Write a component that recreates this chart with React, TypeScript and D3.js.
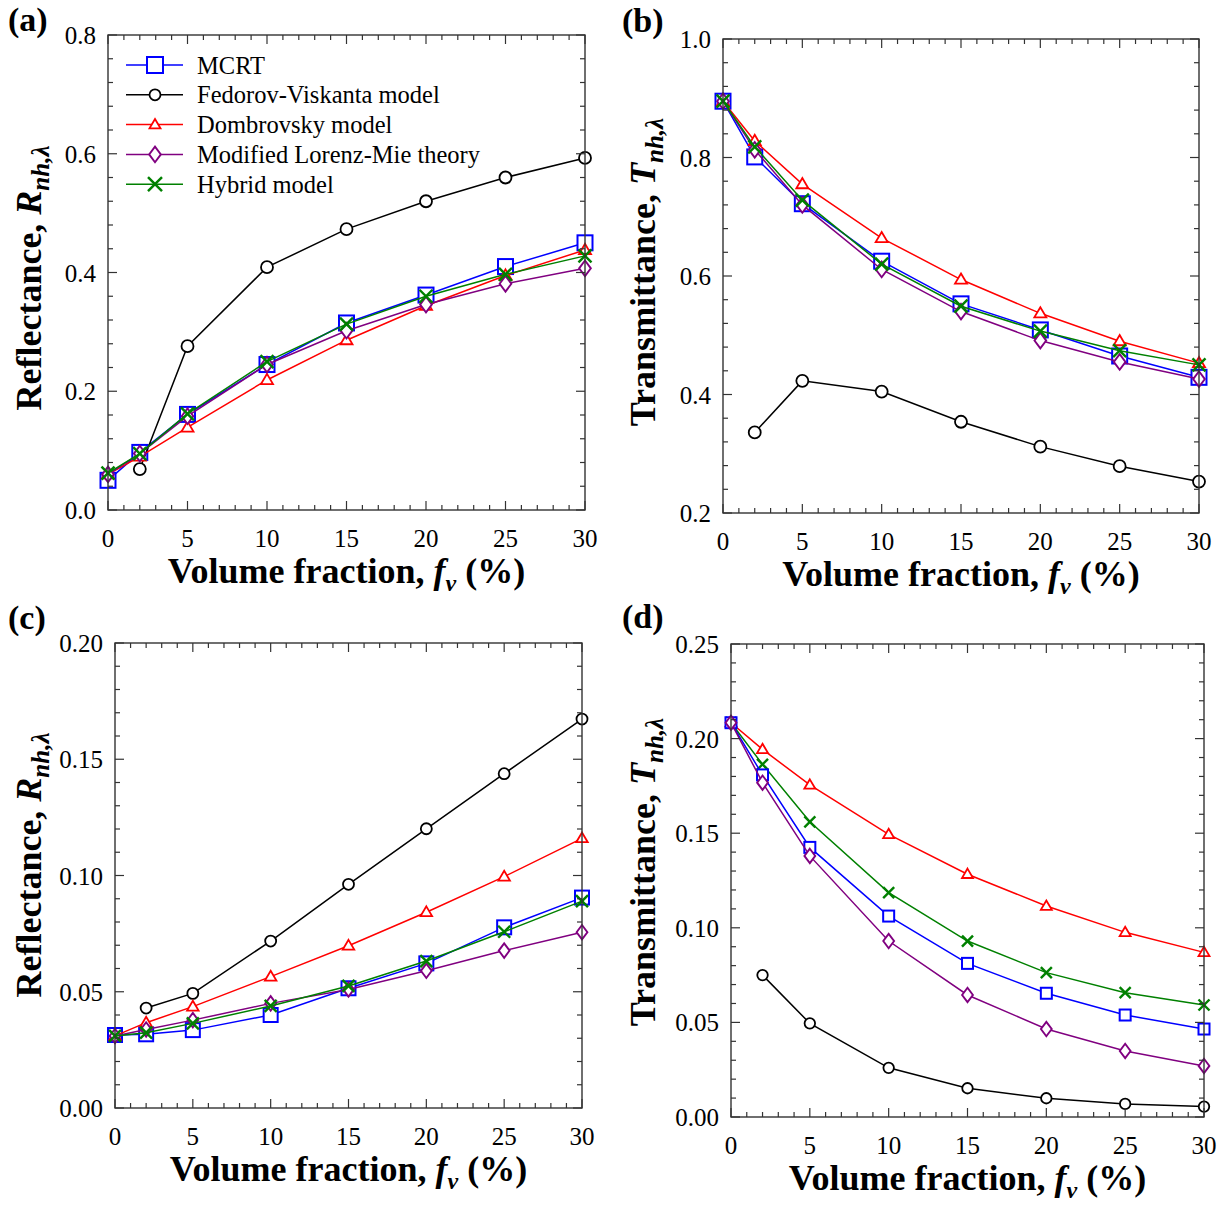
import React from 'react';
import * as d3 from 'd3';

// ---------- DATA ----------
const fv = [0, 2, 5, 10, 15, 20, 25, 30];
const seriesNames = ['MCRT', 'Fedorov-Viskanta model', 'Dombrovsky model', 'Modified Lorenz-Mie theory', 'Hybrid model'];
const seriesColors = ['#0000ff', '#000000', '#ff0000', '#800080', '#008000'];
const seriesMarkers = ['square', 'circle', 'triangle', 'diamond', 'cross'];

// (a) Reflectance
const mcrtA = [0.050, 0.097, 0.161, 0.245, 0.315, 0.362, 0.410, 0.450];
const fedorovA = [null, 0.069, 0.276, 0.409, 0.473, 0.520, 0.560, 0.593];
const dombrovskyA = [0.060, 0.090, 0.139, 0.219, 0.286, 0.344, 0.395, 0.438];
const mlmA = [0.060, 0.095, 0.158, 0.245, 0.302, 0.346, 0.381, 0.407];
const hybridA = [0.062, 0.095, 0.162, 0.250, 0.313, 0.360, 0.397, 0.428];

// (b) Transmittance
const mcrtB = [0.895, 0.801, 0.722, 0.625, 0.553, 0.509, 0.465, 0.429];
const fedorovB = [null, 0.336, 0.423, 0.405, 0.354, 0.312, 0.279, 0.253];
const dombrovskyB = [0.895, 0.828, 0.755, 0.664, 0.594, 0.537, 0.490, 0.453];
const mlmB = [0.895, 0.813, 0.720, 0.611, 0.540, 0.491, 0.455, 0.426];
const hybridB = [0.895, 0.818, 0.728, 0.620, 0.549, 0.507, 0.474, 0.450];

// (c) Reflectance
const mcrtC = [0.0314, 0.0317, 0.0335, 0.0400, 0.0515, 0.0622, 0.0777, 0.0905];
const fedorovC = [null, 0.0430, 0.0493, 0.0718, 0.0962, 0.1201, 0.1438, 0.1673];
const dombrovskyC = [0.0310, 0.0367, 0.0436, 0.0565, 0.0698, 0.0842, 0.0995, 0.1160];
const mlmC = [0.0310, 0.0338, 0.0378, 0.0450, 0.0510, 0.0590, 0.0677, 0.0756];
const hybridC = [0.0310, 0.0324, 0.0364, 0.0439, 0.0525, 0.0632, 0.0758, 0.0890];

// (d) Transmittance
const mcrtD = [0.2084, 0.1808, 0.1425, 0.1062, 0.0812, 0.0654, 0.0539, 0.0465];
const fedorovD = [null, 0.0750, 0.0495, 0.0260, 0.0152, 0.0099, 0.0069, 0.0055];
const dombrovskyD = [0.2084, 0.1943, 0.1755, 0.1494, 0.1283, 0.1115, 0.0976, 0.0870];
const mlmD = [0.2084, 0.1767, 0.1380, 0.0930, 0.0645, 0.0465, 0.0349, 0.0270];
const hybridD = [0.2084, 0.1864, 0.1560, 0.1186, 0.0930, 0.0763, 0.0657, 0.0592];

const xTicks = [0, 5, 10, 15, 20, 25, 30];
const yTicksA = [0, 0.2, 0.4, 0.6, 0.8];
const yTicksB = [0.2, 0.4, 0.6, 0.8, 1.0];
const yTicksC = [0, 0.05, 0.10, 0.15, 0.20];
const yTicksD = [0, 0.05, 0.10, 0.15, 0.20, 0.25];

// ---------- LAYOUT ----------
const FONT = "'Liberation Serif', 'Times New Roman', Times, serif";

type Sizes = { square: number; circle: number; triangle: number; diamond: number; cross: number };

const bigSizes: Sizes = { square: 15, circle: 12, triangle: 12, diamond: 13, cross: 13 };
const midSizes: Sizes = { square: 14, circle: 11, triangle: 11.5, diamond: 12, cross: 12 };
const smallSizes: Sizes = { square: 11, circle: 10.5, triangle: 11, diamond: 12, cross: 11 };

function Marker({ type, cx, cy, sizes, color }: any) {
  const sw = 2;
  if (type === 'square') {
    const s = sizes.square;
    return <rect x={cx - s / 2} y={cy - s / 2} width={s} height={s} fill="white" stroke={color} strokeWidth={sw} />;
  }
  if (type === 'circle') {
    return <circle cx={cx} cy={cy} r={sizes.circle / 2} fill="white" stroke={color} strokeWidth={1.8} />;
  }
  if (type === 'triangle') {
    const s = sizes.triangle;
    const h = s * 0.85;
    const pts = `${cx},${cy - h * 0.6} ${cx + s / 2},${cy + h * 0.4} ${cx - s / 2},${cy + h * 0.4}`;
    return <polygon points={pts} fill="white" stroke={color} strokeWidth={1.8} strokeLinejoin="miter" />;
  }
  if (type === 'diamond') {
    const s = sizes.diamond;
    const pts = `${cx},${cy - s * 0.6} ${cx + s * 0.45},${cy} ${cx},${cy + s * 0.6} ${cx - s * 0.45},${cy}`;
    return <polygon points={pts} fill="white" stroke={color} strokeWidth={1.9} />;
  }
  const r = sizes.cross / 2;
  return (
    <g stroke={color} strokeWidth={2.4}>
      <line x1={cx - r} y1={cy - r} x2={cx + r} y2={cy + r} />
      <line x1={cx - r} y1={cy + r} x2={cx + r} y2={cy - r} />
    </g>
  );
}

function Panel({ cfg }: any) {
  const x = d3.scaleLinear().domain([0, 30]).range([cfg.left, cfg.right]);
  const y = d3.scaleLinear().domain(cfg.yDomain).range([cfg.bottom, cfg.top]);
  const line = d3
    .line<[number, number | null]>()
    .defined((d) => d[1] != null)
    .x((d) => x(d[0]))
    .y((d) => y(d[1] as number));

  const xMinor = d3.range(0, 31, 1);
  const [y0, y1] = cfg.yDomain;
  const nMinor = Math.round((y1 - y0) / cfg.yMinor);
  const yMinor = d3.range(0, nMinor + 1).map((i) => y0 + i * cfg.yMinor);
  const maj = 9;
  const mnr = 5;
  const axisColor = '#333';
  const fmt = d3.format(cfg.yFmt);

  const order: number[] = cfg.order;

  return (
    <g>
      {/* series */}
      {order.map((si: number) => {
        const vals = cfg.series[si];
        const pts = fv.map((f, i) => [f, vals[i]] as [number, number | null]);
        return (
          <g key={si}>
            <path d={line(pts) || ''} fill="none" stroke={seriesColors[si]} strokeWidth={1.5} />
            {pts
              .filter((p) => p[1] != null)
              .map((p, i) => (
                <Marker key={i} type={seriesMarkers[si]} cx={x(p[0])} cy={y(p[1] as number)} sizes={cfg.sizes} color={seriesColors[si]} />
              ))}
          </g>
        );
      })}

      {/* frame */}
      <rect x={cfg.left} y={cfg.top} width={cfg.right - cfg.left} height={cfg.bottom - cfg.top} fill="none" stroke={axisColor} strokeWidth={1.4} />

      {/* x ticks */}
      {xMinor.map((v) => {
        const isMaj = v % 5 === 0;
        const L = isMaj ? maj : mnr;
        return (
          <g key={'xt' + v} stroke={axisColor} strokeWidth={1.2}>
            <line x1={x(v)} x2={x(v)} y1={cfg.bottom} y2={cfg.bottom - L} />
            <line x1={x(v)} x2={x(v)} y1={cfg.top} y2={cfg.top + L} />
          </g>
        );
      })}
      {/* y ticks */}
      {yMinor.map((v, i) => {
        const isMaj = cfg.yTicks.some((t: number) => Math.abs(t - v) < 1e-9);
        const L = isMaj ? maj : mnr;
        return (
          <g key={'yt' + i} stroke={axisColor} strokeWidth={1.2}>
            <line x1={cfg.left} x2={cfg.left + L} y1={y(v)} y2={y(v)} />
            <line x1={cfg.right} x2={cfg.right - L} y1={y(v)} y2={y(v)} />
          </g>
        );
      })}

      {/* tick labels */}
      {xTicks.map((v) => (
        <text key={'xl' + v} x={x(v)} y={cfg.bottom + 37} textAnchor="middle" fontSize={25} fontFamily={FONT} fill="#000">
          {v}
        </text>
      ))}
      {cfg.yTicks.map((v: number) => (
        <text key={'yl' + v} x={cfg.left - 12} y={y(v) + 9} textAnchor="end" fontSize={25} fontFamily={FONT} fill="#000">
          {fmt(v)}
        </text>
      ))}

      {/* x title */}
      <text x={(cfg.left + cfg.right) / 2} y={cfg.bottom + 73} textAnchor="middle" fontSize={36} fontWeight="bold" fontFamily={FONT} fill="#000">
        Volume fraction,{' '}
        <tspan fontStyle="italic">f</tspan>
        <tspan fontStyle="italic" fontSize={24} dy={8}>v</tspan>
        <tspan dy={-8}> (%)</tspan>
      </text>

      {/* y title */}
      <text
        transform={`translate(${cfg.yTitleX},${cfg.yTitleY}) rotate(-90)`}
        textAnchor="middle"
        fontSize={36}
        fontWeight="bold"
        fontFamily={FONT}
        fill="#000"
      >
        {cfg.yTitleWord},{' '}
        <tspan fontStyle="italic">{cfg.yTitleSym}</tspan>
        <tspan fontStyle="italic" fontSize={25} dy={8}>nh,λ</tspan>
      </text>

      {/* panel label */}
      <text x={cfg.labelX} y={cfg.labelY} fontSize={34} fontWeight="bold" fontFamily={FONT} fill="#000">
        {cfg.label}
      </text>
    </g>
  );
}

function Legend() {
  const x1 = 126;
  const x2 = 183;
  const mx = 155;
  const y0 = 65;
  const dy = 29.8;
  const legendSizes: Sizes = { square: 16, circle: 11, triangle: 11, diamond: 13, cross: 14 };
  return (
    <g>
      {seriesNames.map((n, i) => {
        const yy = y0 + i * dy;
        return (
          <g key={n}>
            <line x1={x1} x2={x2} y1={yy} y2={yy} stroke={seriesColors[i]} strokeWidth={1.5} />
            <Marker type={seriesMarkers[i]} cx={mx} cy={yy} sizes={legendSizes} color={seriesColors[i]} />
            <text x={197} y={yy + 8.5} fontSize={24.5} fontFamily={FONT} fill="#000">
              {n}
            </text>
          </g>
        );
      })}
    </g>
  );
}

const panels = [
  {
    label: '(a)', labelX: 8, labelY: 31,
    left: 108, right: 585, top: 35, bottom: 510,
    yDomain: [0, 0.8], yTicks: yTicksA, yMinor: 0.04, yFmt: '.1f',
    series: [mcrtA, fedorovA, dombrovskyA, mlmA, hybridA], order: [0, 1, 2, 3, 4],
    sizes: bigSizes, yTitleWord: 'Reflectance', yTitleSym: 'R', yTitleX: 41, yTitleY: 278,
  },
  {
    label: '(b)', labelX: 622, labelY: 32,
    left: 723, right: 1199, top: 39, bottom: 513,
    yDomain: [0.2, 1.0], yTicks: yTicksB, yMinor: 0.04, yFmt: '.1f',
    series: [mcrtB, fedorovB, dombrovskyB, mlmB, hybridB], order: [0, 1, 2, 3, 4],
    sizes: bigSizes, yTitleWord: 'Transmittance', yTitleSym: 'T', yTitleX: 655, yTitleY: 272,
  },
  {
    label: '(c)', labelX: 8, labelY: 629,
    left: 115, right: 582, top: 643, bottom: 1108,
    yDomain: [0, 0.2], yTicks: yTicksC, yMinor: 0.01, yFmt: '.2f',
    series: [mcrtC, fedorovC, dombrovskyC, mlmC, hybridC], order: [0, 1, 2, 3, 4],
    sizes: midSizes, yTitleWord: 'Reflectance', yTitleSym: 'R', yTitleX: 41, yTitleY: 865,
  },
  {
    label: '(d)', labelX: 622, labelY: 628,
    left: 731, right: 1204, top: 644, bottom: 1117,
    yDomain: [0, 0.25], yTicks: yTicksD, yMinor: 0.01, yFmt: '.2f',
    series: [mcrtD, fedorovD, dombrovskyD, mlmD, hybridD], order: [1, 2, 4, 0, 3],
    sizes: smallSizes, yTitleWord: 'Transmittance', yTitleSym: 'T', yTitleX: 655, yTitleY: 872,
  },
];

export default function App() {
  return (
    <svg
      width={1232}
      height={1206}
      viewBox="0 0 1232 1206"
      style={{ position: 'absolute', left: 0, top: 0, background: '#fff' }}
    >
      <rect x={0} y={0} width={1232} height={1206} fill="#fff" />
      {panels.map((p) => (
        <Panel key={p.label} cfg={p} />
      ))}
      <Legend />
    </svg>
  );
}
